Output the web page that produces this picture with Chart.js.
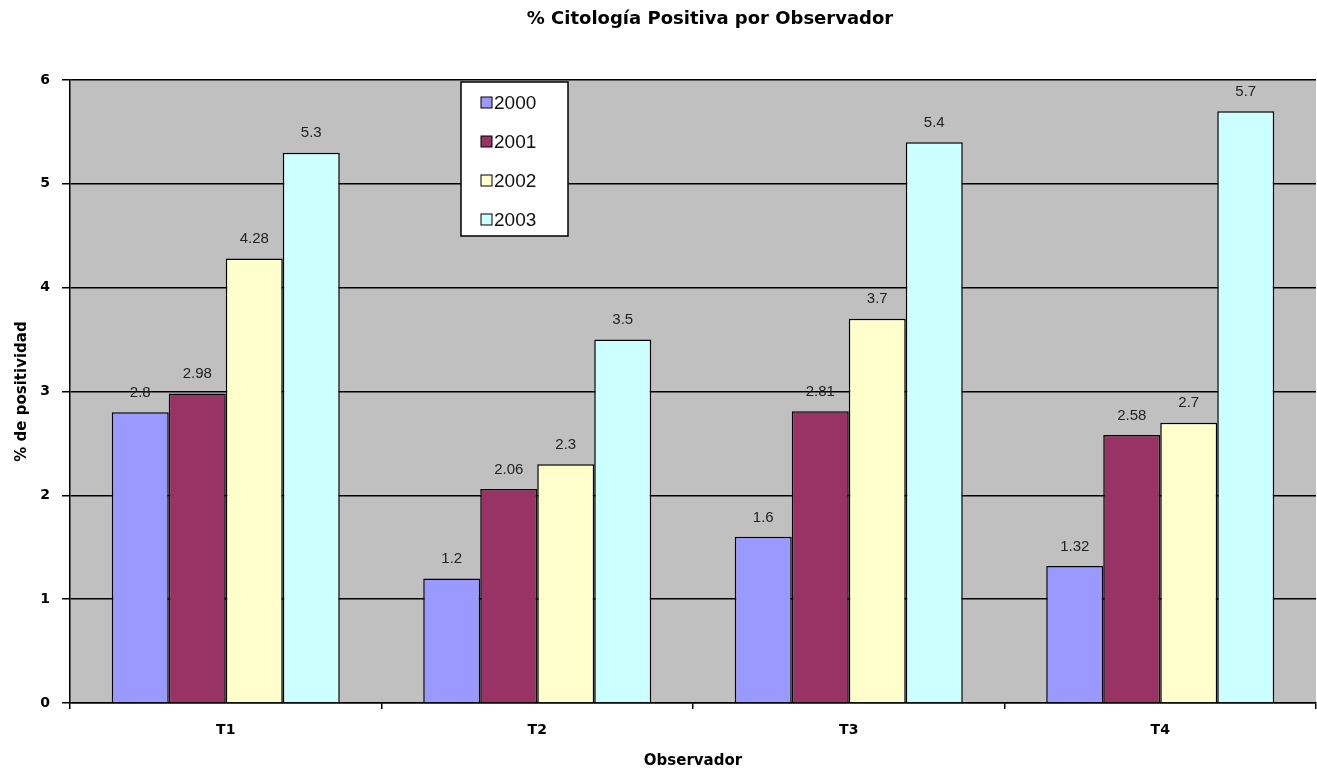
<!DOCTYPE html>
<html>
<head>
<meta charset="utf-8">
<script src="https://cdn.jsdelivr.net/npm/chart.js@4.4.1/dist/chart.umd.min.js"></script>
<style>
  html, body { margin: 0; padding: 0; background: #ffffff; }
  #wrap { width: 1317px; height: 771px; }
</style>
</head>
<body>
<div id="wrap"><canvas id="c" width="1317" height="771"></canvas></div>
<script>
const categories = ['T1', 'T2', 'T3', 'T4'];
const seriesNames = ['2000', '2001', '2002', '2003'];
const values2000 = [2.8, 1.2, 1.6, 1.32];
const values2001 = [2.98, 2.06, 2.81, 2.58];
const values2002 = [4.28, 2.3, 3.7, 2.7];
const values2003 = [5.3, 3.5, 5.4, 5.7];
const yTicks = [0, 1, 2, 3, 4, 5, 6];
const seriesColors = ['#9999FF', '#993366', '#FFFFCC', '#CCFFFF'];

const allValues = [values2000, values2001, values2002, values2003];
const FONT = "'Liberation Sans', Arial, sans-serif";
const HEAVY = "'DejaVu Sans', 'Liberation Sans', sans-serif";

// Gray plot area behind the bars
const plotBackground = {
  id: 'plotBackground',
  beforeDraw(chart) {
    const { ctx, chartArea: a } = chart;
    ctx.save();
    ctx.fillStyle = '#C0C0C0';
    ctx.fillRect(a.left, a.top, a.right - a.left, a.bottom - a.top);
    ctx.restore();
  }
};

// Nudge the title block a little to the right of the canvas centre
const titleShift = {
  id: 'titleShift',
  afterLayout(chart) {
    const t = chart.titleBlock;
    if (t) { t.left += 52; t.right += 52; }
  }
};

// Value printed above every bar
const valueLabels = {
  id: 'valueLabels',
  afterDatasetsDraw(chart) {
    const { ctx } = chart;
    ctx.save();
    ctx.font = '15px ' + FONT;
    ctx.fillStyle = '#222222';
    ctx.textAlign = 'center';
    ctx.textBaseline = 'bottom';
    chart.data.datasets.forEach((ds, i) => {
      chart.getDatasetMeta(i).data.forEach((bar, j) => {
        ctx.fillText(String(ds.data[j]), bar.x, bar.y - 12);
      });
    });
    ctx.restore();
  }
};

// Boxed legend sitting inside the plot area
const boxLegend = {
  id: 'boxLegend',
  afterDraw(chart) {
    const { ctx } = chart;
    const x = 461, y = 82, w = 107, h = 154;
    ctx.save();
    ctx.fillStyle = '#ffffff';
    ctx.fillRect(x, y, w, h);
    ctx.strokeStyle = '#000000';
    ctx.lineWidth = 1.5;
    ctx.strokeRect(x, y, w, h);
    ctx.font = '19px ' + FONT;
    ctx.textBaseline = 'middle';
    ctx.textAlign = 'left';
    chart.data.datasets.forEach((ds, i) => {
      const cy = y + 21 + i * 39;
      ctx.fillStyle = ds.backgroundColor;
      ctx.fillRect(x + 20, cy - 6, 11, 11);
      ctx.strokeStyle = '#000000';
      ctx.lineWidth = 1;
      ctx.strokeRect(x + 20, cy - 6, 11, 11);
      ctx.fillStyle = '#111111';
      ctx.fillText(ds.label, x + 33, cy + 1);
    });
    ctx.restore();
  }
};

new Chart(document.getElementById('c'), {
  type: 'bar',
  data: {
    labels: categories,
    datasets: seriesNames.map((name, i) => ({
      label: name,
      data: allValues[i],
      backgroundColor: seriesColors[i],
      borderColor: '#000000',
      borderWidth: 1.5,
      categoryPercentage: 0.732,
      barPercentage: 1.0
    }))
  },
  options: {
    responsive: false,
    animation: false,
    layout: { padding: { left: 0, right: 1, top: 0, bottom: 0 } },
    plugins: {
      legend: { display: false },
      tooltip: { enabled: false },
      title: {
        display: true,
        text: '% Citología Positiva por Observador',
        color: '#000000',
        font: { family: HEAVY, size: 18, weight: 'bold' },
        padding: { top: 9, bottom: 49.4 }
      }
    },
    scales: {
      x: {
        offset: true,
        afterFit(scale) { scale.height = 68; },
        grid: {
          offset: true,
          drawOnChartArea: false,
          drawTicks: true,
          tickLength: 6,
          color: '#000000',
          lineWidth: 1.5
        },
        border: { display: true, color: '#000000', width: 1.5 },
        ticks: {
          color: '#000000',
          padding: 13,
          font: { family: HEAVY, size: 14, weight: 'bold' }
        },
        title: {
          display: true,
          text: 'Observador',
          color: '#000000',
          font: { family: HEAVY, size: 15, weight: 'bold' },
          padding: { top: 4, bottom: 1 }
        }
      },
      y: {
        min: yTicks[0],
        max: yTicks[yTicks.length - 1],
        afterBuildTicks(scale) {
          scale.ticks = yTicks.map(v => ({ value: v }));
        },
        afterFit(scale) { scale.width = 70; },
        grid: {
          color: '#000000',
          lineWidth: 1.5,
          drawTicks: true,
          tickLength: 8
        },
        border: { display: true, color: '#000000', width: 1.5 },
        ticks: {
          color: '#000000',
          padding: 12,
          font: { family: HEAVY, size: 14, weight: 'bold' }
        },
        title: {
          display: true,
          text: '% de positividad',
          color: '#000000',
          font: { family: HEAVY, size: 15, weight: 'bold' },
          padding: { top: 13, bottom: 0 }
        }
      }
    }
  },
  plugins: [plotBackground, titleShift, valueLabels, boxLegend]
});
</script>
</body>
</html>
